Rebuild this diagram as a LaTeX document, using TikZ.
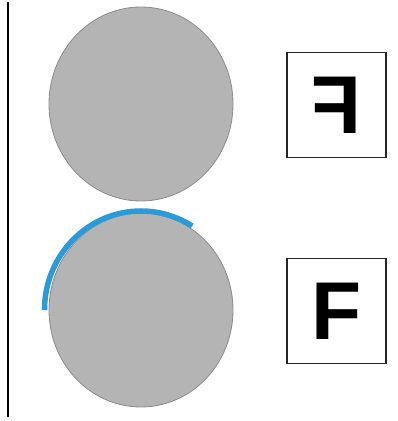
\documentclass[tikz,border=0pt]{standalone}
\usepackage{fontspec}
\setmainfont{Liberation Sans}
\usepackage{tikz}
\usetikzlibrary{positioning,shapes.geometric}
\definecolor{drumgrey}{HTML}{B4B4B4}
\definecolor{drumedge}{HTML}{8A8A8A}
\definecolor{inkblue}{HTML}{2A9AD8}
\tikzset{
  drum/.style={ellipse,draw=drumedge,line width=0.8pt,fill=drumgrey,minimum width=184pt,minimum height=194pt,inner sep=0pt},
  letterbox/.style={draw=black!85,line width=1.6pt,minimum width=99pt,minimum height=105pt,inner sep=0pt,font=\fontsize{82}{82}\selectfont\bfseries}
}
\begin{document}
\begin{tikzpicture}[x=1pt,y=1pt]
\useasboundingbox (0,0) rectangle (397,421);
\draw[line width=2.2pt] (8,4) -- (8,419);
\node[drum] (topdrum) at (141,317) {};
\node[drum] (botdrum) at (141,111) {};
\draw[inkblue,line width=5.5pt] (botdrum.center) ++(180:96.5pt and 99pt) arc[start angle=180,end angle=58,x radius=96.5pt,y radius=99pt];
\node[letterbox] (topbox) at (336.5,316) {\scalebox{-1}[1]{F}};
\node[letterbox] (botbox) at (336.5,110) {F};
\end{tikzpicture}
\end{document}
